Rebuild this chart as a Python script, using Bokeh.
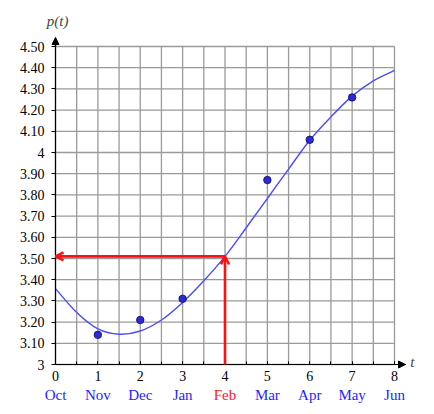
import numpy as np
from bokeh.plotting import figure
from bokeh.models import (Range1d, FixedTicker, Arrow, OpenHead, NormalHead,
                          Label, LabelSet, ColumnDataSource)
from bokeh.embed import file_html
from bokeh.resources import INLINE

# ---- data ----
data_t = [1, 2, 3, 5, 6, 7]
data_p = [3.14, 3.21, 3.31, 3.87, 4.06, 4.26]

curve_t = [0, 0.5, 1, 1.5, 2, 2.5, 3, 3.5, 4, 4.5, 5, 5.5, 6, 6.5, 7, 7.5, 8]
curve_p = [3.358, 3.245, 3.168, 3.143, 3.158, 3.210, 3.293, 3.395, 3.510,
           3.645, 3.783, 3.922, 4.058, 4.168, 4.266, 4.338, 4.387]

x_ticks = [0, 1, 2, 3, 4, 5, 6, 7, 8]
months = ["Oct", "Nov", "Dec", "Jan", "Feb", "Mar", "Apr", "May", "Jun"]
month_colors = ["#1f1fff"] * 4 + ["#ff1a1a"] + ["#1f1fff"] * 4

y_ticks = [3.0, 3.1, 3.2, 3.3, 3.4, 3.5, 3.6, 3.7, 3.8, 3.9,
           4.0, 4.1, 4.2, 4.3, 4.4, 4.5]
y_tick_labels = ["3", "3.10", "3.20", "3.30", "3.40", "3.50", "3.60", "3.70",
                 "3.80", "3.90", "4", "4.10", "4.20", "4.30", "4.40", "4.50"]

feb_t = 4
feb_p = 3.51

FONT = "'Liberation Serif', serif"

# frame covers the whole canvas; axes sit at fixed data locations
p = figure(width=434, height=414, output_backend="svg", toolbar_location=None,
           x_range=Range1d(-1.298, 8.944), y_range=Range1d(2.7642, 4.717),
           min_border=0)
p.outline_line_color = None
p.xgrid.visible = False
p.ygrid.visible = False
p.background_fill_color = "white"
p.border_fill_color = "white"

# grid drawn over the data extent only
gx = np.arange(0, 8.01, 0.5)
p.segment(x0=gx, y0=[y_ticks[0]] * len(gx), x1=gx, y1=[y_ticks[-1]] * len(gx),
          line_color="#9a9a9a", line_width=1.3)
p.segment(x0=[x_ticks[0]] * len(y_ticks), y0=y_ticks, x1=[x_ticks[-1]] * len(y_ticks),
          y1=y_ticks, line_color="#9a9a9a", line_width=1.3)

# axes
xa = p.xaxis[0]
xa.fixed_location = y_ticks[0]
xa.bounds = (0, 8.26)
xa.ticker = FixedTicker(ticks=x_ticks, minor_ticks=list(gx))
xa.axis_line_color = "black"
xa.axis_line_width = 1.2
xa.major_tick_in = 3
xa.major_tick_out = 0
xa.minor_tick_in = 3
xa.minor_tick_out = 0
xa.major_tick_line_color = "black"
xa.minor_tick_line_color = "black"
xa.major_label_standoff = 6
xa.major_label_text_font = FONT
xa.major_label_text_font_size = "14px"
xa.major_label_text_color = "black"

ya = p.yaxis[0]
ya.fixed_location = x_ticks[0]
ya.bounds = (3, 4.5425)
ya.ticker = FixedTicker(ticks=y_ticks, minor_ticks=[])
ya.major_label_overrides = {t: l for t, l in zip(y_ticks, y_tick_labels)}
ya.axis_line_color = "black"
ya.axis_line_width = 1.2
ya.major_tick_in = 0
ya.major_tick_out = 4
ya.major_tick_line_color = "black"
ya.major_label_standoff = 7
ya.major_label_text_font = FONT
ya.major_label_text_font_size = "14px"
ya.major_label_text_color = "black"

# axis arrowheads
p.add_layout(Arrow(end=NormalHead(size=7, fill_color="black", line_color="black"),
                   x_start=8.1, y_start=3, x_end=8.26, y_end=3,
                   line_color="black", line_width=1.2))
p.add_layout(Arrow(end=NormalHead(size=7, fill_color="black", line_color="black"),
                   x_start=0, y_start=4.5, x_end=0, y_end=4.5425,
                   line_color="black", line_width=1.2))

# smooth curve through read values (Catmull-Rom -> cubic Bezier)
ct = np.array(curve_t, dtype=float)
cp = np.array(curve_p, dtype=float)
tp = np.concatenate([[ct[0]], ct, [ct[-1]]])
pp = np.concatenate([[cp[0]], cp, [cp[-1]]])
n = len(ct) - 1
x0 = ct[:-1]; y0 = cp[:-1]; x1 = ct[1:]; y1 = cp[1:]
cx0 = tp[1:n + 1] + (tp[2:n + 2] - tp[0:n]) / 6.0
cy0 = pp[1:n + 1] + (pp[2:n + 2] - pp[0:n]) / 6.0
cx1 = tp[2:n + 2] - (tp[3:n + 3] - tp[1:n + 1]) / 6.0
cy1 = pp[2:n + 2] - (pp[3:n + 3] - pp[1:n + 1]) / 6.0
p.bezier(x0=x0, y0=y0, x1=x1, y1=y1, cx0=cx0, cy0=cy0, cx1=cx1, cy1=cy1,
         line_color="#4a4aff", line_width=1.4)

# data points
p.scatter(data_t, data_p, size=7.5, fill_color="#2b2bd6", line_color="#0b0b70",
          line_width=0.8)

# red arrows
red = "#ff1010"
p.add_layout(Arrow(end=OpenHead(size=8, line_color=red, line_width=2.4),
                   x_start=feb_t, y_start=y_ticks[0], x_end=feb_t, y_end=feb_p,
                   line_color=red, line_width=2.6))
p.add_layout(Arrow(end=OpenHead(size=8, line_color=red, line_width=2.4),
                   x_start=feb_t, y_start=feb_p, x_end=x_ticks[0], y_end=feb_p,
                   line_color=red, line_width=2.6))

# month labels under the tick numbers
msrc = ColumnDataSource(dict(x=x_ticks, y=[2.854] * len(x_ticks), text=months,
                             color=month_colors))
p.add_layout(LabelSet(x="x", y="y", text="text", source=msrc, text_color="color",
                      text_align="center", text_baseline="middle",
                      text_font=FONT, text_font_size="15px"))

# axis names
p.add_layout(Label(x=0.05, y=4.62, text="p(t)", text_align="center",
                   text_baseline="middle", text_font=FONT,
                   text_font_style="italic", text_font_size="15px"))
p.add_layout(Label(x=8.37, y=3.012, text="t", text_align="left",
                   text_baseline="middle", text_font=FONT,
                   text_font_style="italic", text_font_size="15px"))

open("out.html", "w").write(file_html(p, INLINE))
